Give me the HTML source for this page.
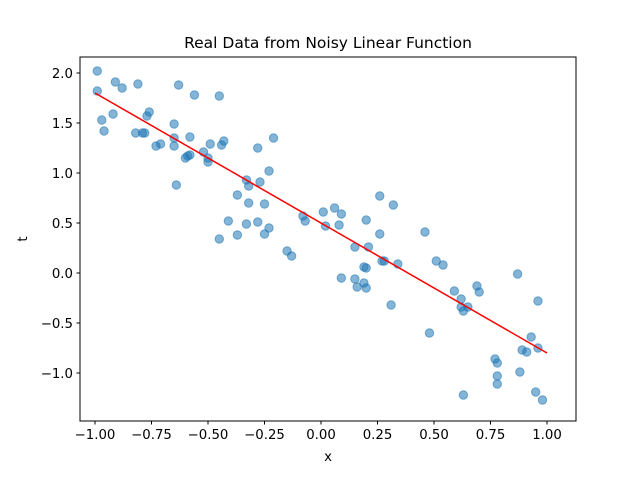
<!DOCTYPE html>
<html><head><meta charset="utf-8"><style>
body{margin:0;background:#fff;}
svg text{font-family:"DejaVu Sans","Liberation Sans",sans-serif;fill:#000;}
</style></head><body>
<svg id="chart" width="640" height="472" xmlns="http://www.w3.org/2000/svg">
<rect width="640" height="472" fill="#fff"/>
<text x="328" y="48" font-size="15.5" text-anchor="middle">Real Data from Noisy Linear Function</text>
<text x="328" y="461" font-size="13.3" text-anchor="middle">x</text>
<text x="27" y="239" font-size="13.3" text-anchor="middle" transform="rotate(-90 27 239)">t</text>
<g id="marks"></g>
<rect x="80" y="57" width="496" height="364" fill="none" stroke="#000" stroke-width="1"/>
</svg>
<script>
const xs=[-0.99,-0.99,-0.91,-0.88,-0.81,-0.63,-0.56,-0.45,-0.97,-0.92,-0.96,-0.77,-0.76,-0.82,-0.79,-0.78,-0.65,-0.65,-0.65,-0.58,-0.73,-0.71,-0.60,-0.59,-0.58,-0.52,-0.49,-0.44,-0.43,-0.50,-0.50,-0.64,-0.28,-0.21,-0.23,-0.33,-0.32,-0.27,-0.37,-0.32,-0.25,-0.41,-0.33,-0.28,-0.37,-0.45,-0.23,-0.25,-0.15,-0.13,-0.08,-0.07,0.01,0.02,0.26,0.32,0.06,0.09,0.08,0.20,0.26,0.46,0.15,0.21,0.27,0.28,0.34,0.51,0.54,0.19,0.20,0.09,0.15,0.19,0.16,0.20,0.31,0.87,0.59,0.62,0.69,0.70,0.62,0.63,0.65,0.96,0.48,0.93,0.89,0.91,0.96,0.77,0.78,0.78,0.78,0.88,0.63,0.95,0.98];
const ts=[2.02,1.82,1.91,1.85,1.89,1.88,1.78,1.77,1.53,1.59,1.42,1.57,1.61,1.40,1.40,1.40,1.49,1.35,1.27,1.36,1.27,1.29,1.15,1.17,1.18,1.21,1.29,1.28,1.32,1.15,1.11,0.88,1.25,1.35,1.02,0.93,0.87,0.91,0.78,0.70,0.69,0.52,0.49,0.51,0.38,0.34,0.45,0.39,0.22,0.17,0.57,0.52,0.61,0.47,0.77,0.68,0.65,0.59,0.48,0.53,0.39,0.41,0.26,0.26,0.12,0.12,0.09,0.12,0.08,0.06,0.05,-0.05,-0.06,-0.10,-0.14,-0.15,-0.32,-0.01,-0.18,-0.26,-0.13,-0.19,-0.34,-0.38,-0.34,-0.28,-0.60,-0.64,-0.77,-0.79,-0.75,-0.86,-0.90,-1.03,-1.11,-0.99,-1.22,-1.19,-1.27];
const fitX=[-1,1];
const fitT=[1.8,-0.8];
const xTicks=[-1,-0.75,-0.5,-0.25,0,0.25,0.5,0.75,1];
const xTickLabels=["\u22121.00","\u22120.75","\u22120.50","\u22120.25","0.00","0.25","0.50","0.75","1.00"];
const yTicks=[-1,-0.5,0,0.5,1,1.5,2];
const yTickLabels=["\u22121.0","\u22120.5","0.0","0.5","1.0","1.5","2.0"];
const NS="http://www.w3.org/2000/svg";
const X=v=>321+v*226, Y=v=>273-v*100;
const g=document.getElementById('marks');
function mk(tag,attrs){const e=document.createElementNS(NS,tag);for(const k in attrs)e.setAttribute(k,attrs[k]);g.appendChild(e);return e;}
xTicks.forEach((v,i)=>{
 const l=mk('line',{x1:X(v),x2:X(v),y1:421,y2:424.5,stroke:'#000'});
 
 
 const t=mk('text',{x:X(v),y:439,'font-size':13.3,'text-anchor':'middle'});t.textContent=xTickLabels[i];
 
 
});
yTicks.forEach((v,i)=>{
 const l=mk('line',{x1:76.5,x2:80,y1:Y(v),y2:Y(v),stroke:'#000'});
 
 
 const t=mk('text',{x:73,y:Y(v)+5,'font-size':13.3,'text-anchor':'end'});t.textContent=yTickLabels[i];
 
 
});
xs.forEach((v,i)=>{
 const c=mk('circle',{cx:X(v),cy:Y(ts[i]),r:4.2,fill:'#1f77b4','fill-opacity':0.55,stroke:'#1f77b4','stroke-opacity':0.55,'stroke-width':1});
 
 
});
const fl=mk('line',{x1:X(fitX[0]),y1:Y(fitT[0]),x2:X(fitX[1]),y2:Y(fitT[1]),stroke:'#ff0000','stroke-width':1.5});


</script>
</body></html>
